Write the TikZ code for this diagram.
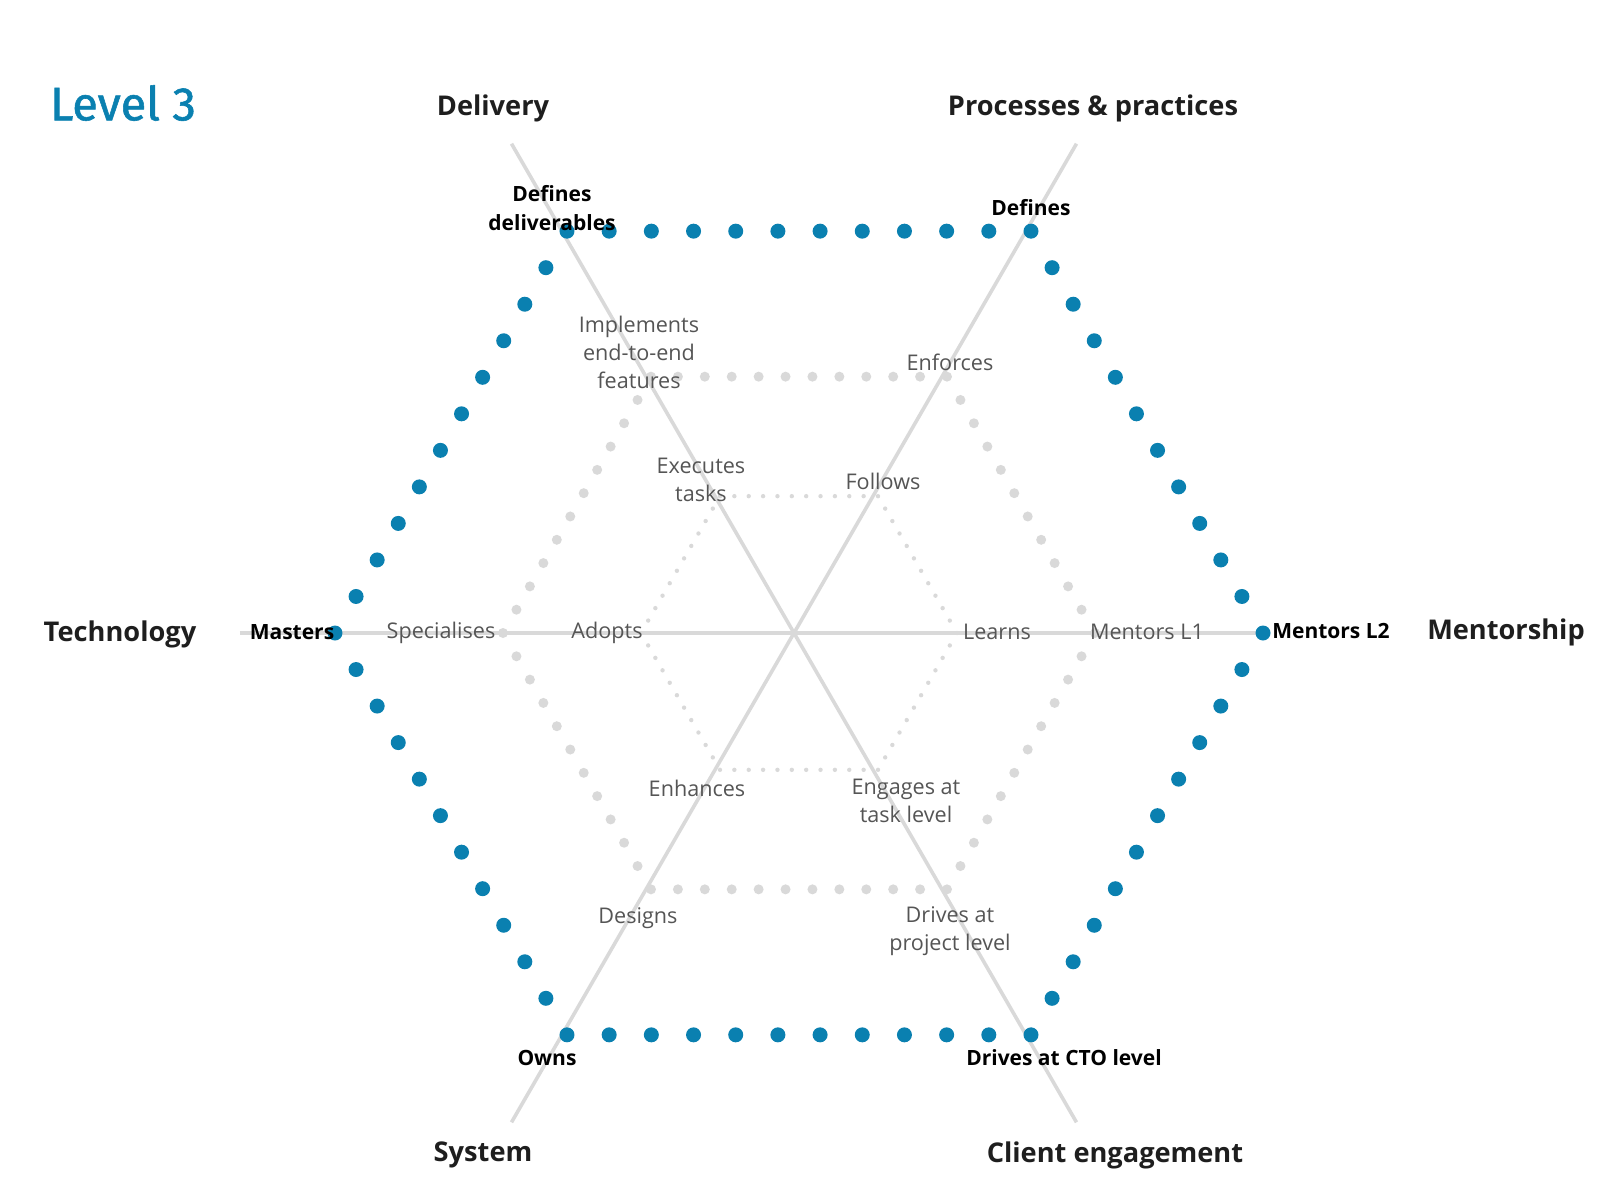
\documentclass[tikz,border=0pt]{standalone}
\usepackage{fontspec}
\usepackage{tikz}
\usetikzlibrary{calc}
\setmainfont{Open Sans}
\newfontfamily\titlefont[FakeBold=1.2]{Fira Sans}
\definecolor{ocean}{HTML}{0A80B0}
\definecolor{mist}{HTML}{D9D9D9}
\definecolor{slate}{HTML}{555555}
\definecolor{ink}{HTML}{1E1E1E}

\begin{document}
\begin{tikzpicture}[x=0.5pt,y=0.5pt,
  axis/.style={mist,line width=1.8pt},
  dimension/.style={ink,font=\fontsize{13.6}{15}\selectfont\bfseries,align=center},
  toplevel/.style={black,font=\fontsize{10.5}{14.3}\selectfont\bfseries,align=center},
  rung/.style={slate,font=\fontsize{10.8}{14}\selectfont,align=center}]
\useasboundingbox (-794,-567) rectangle (806,633);
\coordinate (c) at (0,0);
\coordinate (hc) at (5,0);
% axes
\coordinate (delivery end) at (120:565);
\coordinate (client end) at (300:565);
\coordinate (process end) at (60:565);
\coordinate (system end) at (240:565);
\coordinate (tech end) at (-554,0);
\coordinate (mentor end) at (474,0);
\draw[axis] (delivery end)--(client end);
\draw[axis] (process end)--(system end);
\draw[axis] (tech end)--(mentor end);
% dotted hexagons
\begin{scope}[shift={(hc)}]
\foreach \r/\s/\col in {158/2.2/mist,296/5/mist,464/7.5/ocean}{
  \foreach \k in {0,...,5}{
    \pgfmathtruncatemacro\a{\k*60}
    \pgfmathtruncatemacro\b{\k*60+60}
    \foreach \j in {0,...,10}{
      \fill[\col] ($(\a:\r)!\j/11!(\b:\r)$) circle (\s);
    }
  }
}
\end{scope}
% title
\node[ocean,font=\fontsize{23.5}{25}\titlefont] (title) at (-671,530) {Level 3};
% dimensions
\node[dimension] (delivery) at (-301,525) {Delivery};
\node[dimension] (process) at (299,525) {Processes \& practices};
\node[dimension] (tech) at (-674,-1) {Technology};
\node[dimension] (mentor) at (712,1) {Mentorship};
\node[dimension] (system) at (-311,-522) {System};
\node[dimension] (client) at (321,-522) {Client engagement};
% level 3 labels
\node[toplevel] (deliv3) at (-242,425) {Defines\\deliverables};
\node[toplevel] (process3) at (237,425) {Defines};
\node[toplevel] (tech3) at (-502,1) {Masters};
\node[toplevel] (mentor3) at (537,2) {Mentors L2};
\node[toplevel] (system3) at (-247,-425) {Owns};
\node[toplevel] (client3) at (270,-425) {Drives at CTO level};
% level 2 labels
\node[rung] (deliv2) at (-155,281) {Implements\\end-to-end\\features};
\node[rung] (process2) at (156,271) {Enforces};
\node[rung] (tech2) at (-353,0) {Specialises};
\node[rung] (mentor2) at (353,1) {Mentors L1};
\node[rung] (system2) at (-156,-285) {Designs};
\node[rung] (client2) at (156,-298) {Drives at\\project level};
% level 1 labels
\node[rung] (deliv1) at (-93,153) {Executes\\tasks};
\node[rung] (process1) at (89,152) {Follows};
\node[rung] (tech1) at (-187,0) {Adopts};
\node[rung] (mentor1) at (203,1) {Learns};
\node[rung] (system1) at (-97,-155) {Enhances};
\node[rung] (client1) at (112,-168) {Engages at\\task level};
\end{tikzpicture}
\end{document}
